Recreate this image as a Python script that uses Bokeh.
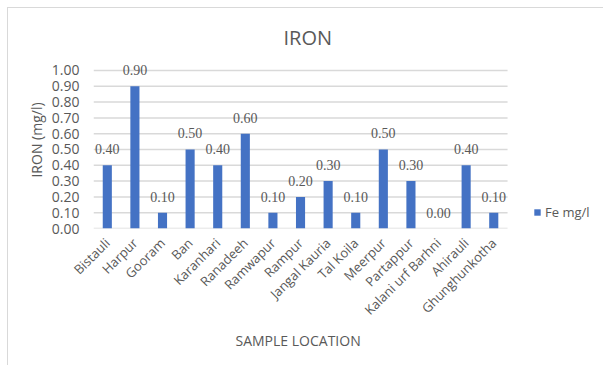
import math
from bokeh.plotting import figure
from bokeh.models import (ColumnDataSource, Range1d, LabelSet, Legend, LegendItem,
                          FixedTicker, NumeralTickFormatter, InlineStyleSheet, Title)
from bokeh.embed import file_html
from bokeh.resources import INLINE

# Iron concentration per sampling site
locations = ["Bistauli", "Harpur", "Gooram", "Ban", "Karanhari", "Ranadeeh", "Ramwapur",
             "Rampur", "Jangal Kauria", "Tal Koila", "Meerpur", "Partappur",
             "Kalani urf Barhni", "Ahirauli", "Ghunghunkotha"]
fe_mg_l = [0.40, 0.90, 0.10, 0.50, 0.40, 0.60, 0.10, 0.20, 0.30, 0.10, 0.50, 0.30,
           0.00, 0.40, 0.10]
y_ticks = [0.0, 0.1, 0.2, 0.3, 0.4, 0.5, 0.6, 0.7, 0.8, 0.9, 1.0]

FONT = "Open Sans"
TXT = "#595959"
BAR = "#4472C4"
GRID = "#D9D9D9"

n = len(locations)
pos = list(range(n))
source = ColumnDataSource(dict(
    x=pos,
    fe=fe_mg_l,
    lbl=[f"{v:.2f}" for v in fe_mg_l],
))

# The frame runs on to the right edge so the legend sits inside it;
# the category band itself spans -0.5 .. n-0.5.
p = figure(
    width=596, height=358,
    x_range=Range1d(-0.5, n - 0.5 + 3.15),
    y_range=Range1d(0, 1.12),
    output_backend="svg", toolbar_location=None,
    min_border_left=85, min_border_right=10,
    min_border_top=43, min_border_bottom=138,
)
p.margin = (7, 0, 0, 7)
p.stylesheets = [InlineStyleSheet(css=":host { border-top: 1px solid #D9D9D9; border-left: 1px solid #D9D9D9; }")]

p.add_layout(Title(text="IRON", align="left", offset=190, standoff=2,
                   text_font=FONT, text_font_size="20px", text_font_style="normal",
                   text_color=TXT), "above")

p.outline_line_color = None
p.background_fill_color = "white"
p.border_fill_color = "white"

# horizontal gridlines across the category band only
p.segment(x0=[-0.5] * len(y_ticks), x1=[n - 0.5] * len(y_ticks), y0=y_ticks, y1=y_ticks,
          line_color=GRID, line_width=1.5)

bars = p.vbar(x="x", top="fe", width=0.33, source=source,
              fill_color=BAR, line_color=None)

labels = LabelSet(x="x", y="fe", text="lbl", source=source,
                  y_offset=16, text_align="center", text_baseline="middle",
                  text_font=FONT, text_font_size="14px", text_color=TXT)
p.add_layout(labels)

# Axes
p.yaxis.ticker = FixedTicker(ticks=y_ticks)
p.yaxis.formatter = NumeralTickFormatter(format="0.00")
p.yaxis.axis_label = "IRON (mg/l)"
p.xaxis.ticker = FixedTicker(ticks=pos)
p.xaxis.major_label_overrides = {i: name for i, name in enumerate(locations)}
for ax in (p.xaxis, p.yaxis):
    ax.axis_line_color = None
    ax.major_tick_line_color = None
    ax.minor_tick_line_color = None
    ax.major_label_text_font = FONT
    ax.major_label_text_color = TXT
    ax.axis_label_text_font = FONT
    ax.axis_label_text_font_size = "14px"
    ax.axis_label_text_font_style = "normal"
    ax.axis_label_text_color = TXT
p.yaxis.major_label_text_font_size = "14px"
p.xaxis.major_label_text_font_size = "13px"
p.yaxis.major_label_standoff = 8
p.yaxis.axis_label_standoff = 3
p.xaxis.major_label_orientation = math.pi / 4
p.xaxis.major_label_standoff = 6

p.add_layout(Title(text="SAMPLE LOCATION", align="left", offset=142, standoff=0,
                   text_font=FONT, text_font_size="14px", text_font_style="normal",
                   text_color=TXT), "below")

p.xgrid.grid_line_color = None
p.ygrid.grid_line_color = None

legend = Legend(items=[LegendItem(label="Fe mg/l", renderers=[bars])],
                location=(440, 7), orientation="vertical",
                border_line_color=None, background_fill_alpha=0,
                padding=0, margin=0, glyph_width=8, glyph_height=8,
                label_standoff=4, label_text_font=FONT,
                label_text_font_size="13px", label_text_color=TXT)
p.add_layout(legend)

open("out.html", "w").write(file_html(p, INLINE))
